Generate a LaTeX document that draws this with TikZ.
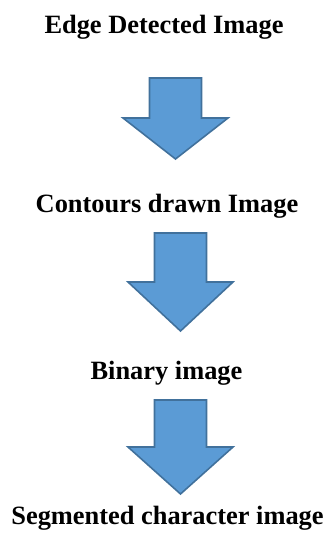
\documentclass[tikz,border=0pt]{standalone}
\usepackage{fontspec}
\setmainfont{Liberation Serif}
\definecolor{arrowfill}{HTML}{5B9BD5}
\definecolor{arrowline}{HTML}{41719C}
\tikzset{
  steptext/.style={font=\fontsize{26.4}{30}\selectfont\bfseries, inner sep=0pt, anchor=base},
  blockarrow/.style={fill=arrowfill, draw=arrowline, line width=1.6pt, line join=miter}
}
% down-pointing block arrow: centre x, shaft top, head base, tip, shaft half-width, head half-width
\newcommand\downblock[6]{%
  \draw[blockarrow] (#1-#5,-#2) -- (#1+#5,-#2) -- (#1+#5,-#3) -- (#1+#6,-#3)
    -- (#1,-#4) -- (#1-#6,-#3) -- (#1-#5,-#3) -- cycle;}
\begin{document}
\begin{tikzpicture}[x=1pt,y=1pt]
  \useasboundingbox (0,0) rectangle (327,-542);
  \node[steptext] (edge)    at (164,-33)  {Edge Detected Image};
  \node[steptext] (contour) at (167,-212) {Contours drawn Image};
  \node[steptext] (binary)  at (166.5,-379) {Binary image};
  \node[steptext] (segment) at (167.5,-524) {Segmented character image};
  \downblock{175.5}{78}{118}{159}{26}{52.5}
  \downblock{180.5}{233}{282}{331}{26}{52.5}
  \downblock{180.5}{400}{447}{494}{26}{52.5}
\end{tikzpicture}
\end{document}
